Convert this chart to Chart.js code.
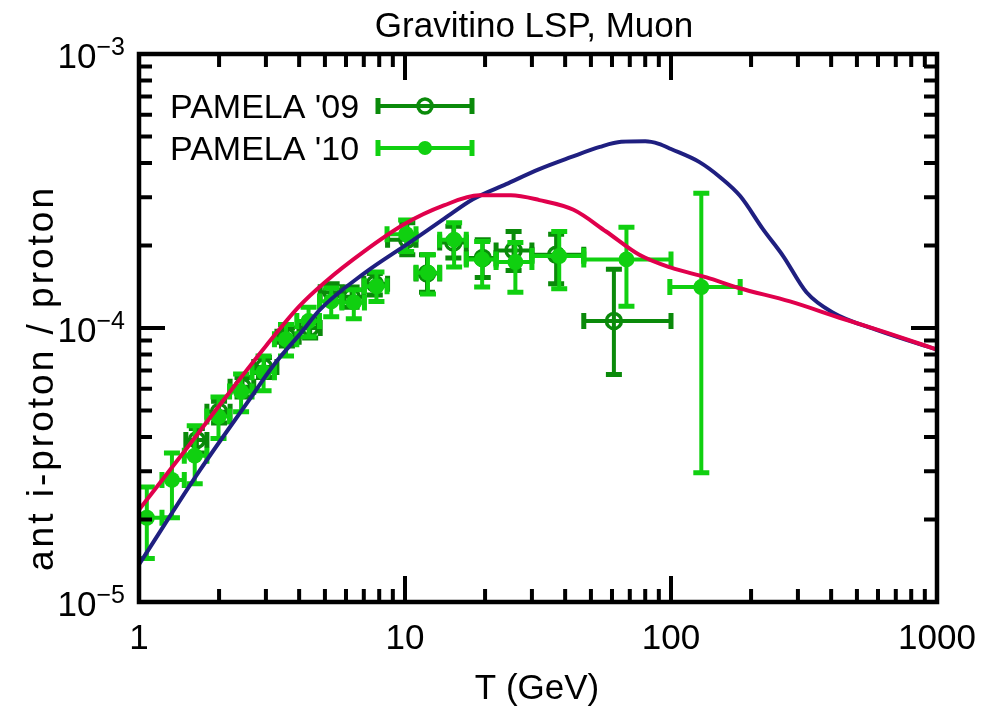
<!DOCTYPE html>
<html><head><meta charset="utf-8">
<script src="https://cdn.jsdelivr.net/npm/chart.js@4.4.1/dist/chart.umd.min.js"></script>
<style>html,body{margin:0;padding:0;background:#fff;}canvas{display:block;}</style>
</head><body>
<canvas id="c" width="1004" height="707"></canvas>
<script>
// ---- tick labels ----
const xTickValues = [1, 10, 100, 1000];
const xTickLabels = ['1', '10', '100', '1000'];
const yTickValues = [1e-5, 1e-4, 1e-3];
const yTickBase = ['10', '10', '10'];
const yTickExp = ['\u22125', '\u22124', '\u22123'];

// ---- PAMELA '10 (light green, filled) ----
const T10    = [1.07, 1.33, 1.62, 1.99, 2.42, 2.94, 3.57, 4.34, 5.28, 6.42, 7.81, 10.1, 12.2, 15.3, 19.5, 26.0, 38.0, 68.0, 130.0];
const R10    = [2.03e-5, 2.79e-5, 3.42e-5, 4.75e-5, 5.86e-5, 6.9e-5, 9.1e-5, 1.06e-4, 1.25e-4, 1.24e-4, 1.42e-4, 2.2e-4, 1.59e-4, 2.1e-4, 1.78e-4, 1.74e-4, 1.83e-4, 1.78e-4, 1.41e-4];
const R10hi  = [2.63e-5, 3.50e-5, 4.40e-5, 5.6e-5, 6.8e-5, 7.9e-5, 1.03e-4, 1.19e-4, 1.40e-4, 1.38e-4, 1.60e-4, 2.48e-4, 1.85e-4, 2.42e-4, 2.07e-4, 2.05e-4, 2.25e-4, 2.33e-4, 3.1e-4];
const R10lo  = [1.44e-5, 2.03e-5, 2.70e-5, 3.95e-5, 4.95e-5, 5.9e-5, 7.9e-5, 9.3e-5, 1.10e-4, 1.08e-4, 1.25e-4, 1.9e-4, 1.33e-4, 1.67e-4, 1.41e-4, 1.35e-4, 1.39e-4, 1.2e-4, 2.96e-5];
const T10lo  = [0.97, 1.22, 1.48, 1.80, 2.19, 2.66, 3.23, 3.92, 4.77, 5.79, 7.04, 8.56, 11.0, 13.5, 17.0, 22.0, 30.0, 47.0, 99.0];
const T10hi  = [1.22, 1.48, 1.80, 2.19, 2.66, 3.23, 3.92, 4.77, 5.79, 7.04, 8.56, 11.0, 13.5, 17.0, 22.0, 30.0, 47.0, 100.0, 182.0];

// ---- PAMELA '09 (dark green, open) ----
const T09    = [1.65, 2.0, 2.45, 2.95, 3.6, 4.4, 5.3, 6.3, 7.7, 10.2, 12.1, 15.2, 19.6, 25.6, 37.0, 61.0];
const R09    = [3.9e-5, 4.95e-5, 6.1e-5, 7.2e-5, 9.3e-5, 1.0e-4, 1.35e-4, 1.3e-4, 1.45e-4, 2.1e-4, 1.58e-4, 2.05e-4, 1.8e-4, 1.92e-4, 1.85e-4, 1.06e-4];
const R09hi  = [4.3e-5, 5.4e-5, 6.6e-5, 7.8e-5, 1.0e-4, 1.08e-4, 1.45e-4, 1.41e-4, 1.58e-4, 2.42e-4, 1.85e-4, 2.35e-4, 2.1e-4, 2.25e-4, 2.2e-4, 1.64e-4];
const R09lo  = [3.5e-5, 4.5e-5, 5.6e-5, 6.6e-5, 8.6e-5, 9.2e-5, 1.25e-4, 1.19e-4, 1.32e-4, 1.85e-4, 1.35e-4, 1.8e-4, 1.53e-4, 1.62e-4, 1.45e-4, 6.76e-5];
const T09lo  = [1.5, 1.8, 2.2, 2.7, 3.3, 4.0, 4.8, 5.8, 7.0, 8.6, 11.0, 13.5, 17.0, 22.0, 30.0, 47.0];
const T09hi  = [1.8, 2.2, 2.7, 3.3, 4.0, 4.8, 5.8, 7.0, 8.6, 11.0, 13.5, 17.0, 22.0, 30.0, 47.0, 100.0];

// ---- model curves ----
const redT = [1, 1.5, 2, 3, 4, 5, 7, 10, 14, 19, 25, 32, 43, 57, 76, 100, 136, 180, 280, 430, 650, 1000];
const redR = [2.17e-5, 3.6e-5, 5.2e-5, 8.6e-5, 1.2e-4, 1.47e-4, 1.9e-4, 2.4e-4, 2.8e-4, 3.05e-4, 3.05e-4, 2.93e-4, 2.7e-4, 2.25e-4, 1.85e-4, 1.66e-4, 1.53e-4, 1.4e-4, 1.25e-4, 1.09e-4, 9.6e-5, 8.34e-5];
const blueT = [1, 1.7, 2.6, 3.2, 4.1, 4.8, 7, 10.4, 14, 18, 24, 32, 42, 54, 65, 80, 90, 100, 128, 153, 182, 222, 264, 323, 405, 600, 1000];
const blueR = [1.37e-5, 3.04e-5, 5.48e-5, 7.3e-5, 9.7e-5, 1.17e-4, 1.58e-4, 2.05e-4, 2.5e-4, 2.95e-4, 3.35e-4, 3.8e-4, 4.2e-4, 4.58e-4, 4.78e-4, 4.8e-4, 4.7e-4, 4.5e-4, 4.03e-4, 3.55e-4, 3.03e-4, 2.29e-4, 1.83e-4, 1.35e-4, 1.14e-4, 9.8e-5, 8.34e-5];

const DARK = '#0a8a0a', LIGHT = '#10d010', RED = '#e0004c', BLUE = '#1f1f80';
const FONT = '"Liberation Sans", Arial, Helvetica, sans-serif';

function pts(xs, ys) { return xs.map((x, i) => ({x: x, y: ys[i]})); }

const errInfo = {
  2: {lo: R10lo, hi: R10hi, xlo: T10lo, xhi: T10hi, T: T10, R: R10, color: LIGHT},
  3: {lo: R09lo, hi: R09hi, xlo: T09lo, xhi: T09hi, T: T09, R: R09, color: DARK}
};

function drawErr(ctx, px, py, x0, x1, y0, y1, color) {
  ctx.strokeStyle = color;
  ctx.lineWidth = 4;
  ctx.lineCap = 'butt';
  ctx.beginPath();
  if (y0 !== null) { ctx.moveTo(px, y0); ctx.lineTo(px, y1); }
  ctx.moveTo(x0, py); ctx.lineTo(x1, py);
  ctx.stroke();
  ctx.lineWidth = 5;
  const c = 8;
  ctx.beginPath();
  if (y0 !== null) { ctx.moveTo(px - c, y0); ctx.lineTo(px + c, y0); ctx.moveTo(px - c, y1); ctx.lineTo(px + c, y1); }
  ctx.moveTo(x0, py - c); ctx.lineTo(x0, py + c);
  ctx.moveTo(x1, py - c); ctx.lineTo(x1, py + c);
  ctx.stroke();
}

const errPlugin = {
  id: 'errbars',
  beforeDatasetDraw(chart, args) {
    const e = errInfo[args.index];
    if (!e) return;
    const {ctx, chartArea: a} = chart;
    const xs = chart.scales.x, ys = chart.scales.y;
    ctx.save();
    ctx.beginPath(); ctx.rect(a.left, a.top, a.right - a.left, a.bottom - a.top); ctx.clip();
    for (let i = 0; i < e.T.length; i++) {
      drawErr(ctx, xs.getPixelForValue(e.T[i]), ys.getPixelForValue(e.R[i]),
        xs.getPixelForValue(e.xlo[i]), xs.getPixelForValue(e.xhi[i]),
        ys.getPixelForValue(e.lo[i]), ys.getPixelForValue(e.hi[i]), e.color);
    }
    ctx.restore();
  }
};

const framePlugin = {
  id: 'frame',
  afterDraw(chart) {
    const {ctx, chartArea: a} = chart;
    const xs = chart.scales.x, ys = chart.scales.y;
    ctx.save();
    ctx.strokeStyle = '#000';
    ctx.lineWidth = 4;
    const majL = 26, minL = 13;
    ctx.beginPath();
    for (let d = 0; d < 3; d++) {
      for (let k = 1; k <= 9; k++) {
        const v = k * Math.pow(10, d);
        const px = xs.getPixelForValue(v);
        const L = k === 1 ? majL : minL;
        ctx.moveTo(px, a.bottom); ctx.lineTo(px, a.bottom - L);
        ctx.moveTo(px, a.top); ctx.lineTo(px, a.top + L);
      }
    }
    for (let d = -5; d < -3; d++) {
      for (let k = 1; k <= 9; k++) {
        const v = k * Math.pow(10, d);
        const py = ys.getPixelForValue(v);
        const L = k === 1 ? majL : minL;
        ctx.moveTo(a.left, py); ctx.lineTo(a.left + L, py);
        ctx.moveTo(a.right, py); ctx.lineTo(a.right - L, py);
      }
    }
    ctx.stroke();
    ctx.lineWidth = 4.5;
    ctx.strokeRect(a.left, a.top, a.right - a.left, a.bottom - a.top);

    // tick labels
    ctx.fillStyle = '#000';
    ctx.font = '35px ' + FONT;
    ctx.textAlign = 'center';
    ctx.textBaseline = 'alphabetic';
    xTickValues.forEach((v, i) => ctx.fillText(xTickLabels[i], xs.getPixelForValue(v), a.bottom + 47));
    yTickValues.forEach((v, i) => {
      const py = ys.getPixelForValue(v);
      ctx.font = '25px ' + FONT;
      ctx.textAlign = 'right';
      const right = a.left - 14;
      const sw = ctx.measureText(yTickExp[i]).width;
      ctx.fillText(yTickExp[i], right, py + 1);
      ctx.font = '35px ' + FONT;
      ctx.fillText(yTickBase[i], right - sw, py + 14);
    });

    // titles
    ctx.textAlign = 'center';
    ctx.font = '35px ' + FONT;
    ctx.fillText('Gravitino LSP, Muon', 534, 37);
    ctx.fillText('T (GeV)', 537, 699);
    ctx.save();
    ctx.translate(53, 378);
    ctx.rotate(-Math.PI / 2);
    ctx.font = '37px ' + FONT;
    ctx.letterSpacing = '3px';
    ctx.fillText('ant i-proton / proton', 0, 0);
    ctx.restore();

    // legend
    ctx.textAlign = 'left';
    ctx.font = '34px ' + FONT;
    const rows = [{t: "PAMELA '09", y: 106, c: DARK, open: true}, {t: "PAMELA '10", y: 148, c: LIGHT, open: false}];
    rows.forEach(r => {
      ctx.fillStyle = '#000';
      ctx.fillText(r.t, 170, r.y + 12);
      drawErr(ctx, 425, r.y, 378, 472, null, null, r.c);
      ctx.beginPath();
      ctx.arc(425, r.y, 7, 0, Math.PI * 2);
      if (r.open) { ctx.lineWidth = 3.5; ctx.strokeStyle = r.c; ctx.stroke(); }
      else { ctx.fillStyle = r.c; ctx.fill(); }
    });
    ctx.restore();
  }
};

new Chart(document.getElementById('c'), {
  type: 'scatter',
  data: {
    datasets: [
      {label: 'red', data: pts(redT, redR), showLine: true, borderColor: RED, borderWidth: 4, pointRadius: 0, cubicInterpolationMode: 'monotone', fill: false},
      {label: 'blue', data: pts(blueT, blueR), showLine: true, borderColor: BLUE, borderWidth: 4, pointRadius: 0, cubicInterpolationMode: 'monotone', fill: false},
      {label: "PAMELA '10", data: pts(T10, R10), pointRadius: 8, pointBackgroundColor: LIGHT, pointBorderColor: LIGHT, pointBorderWidth: 0, showLine: false},
      {label: "PAMELA '09", data: pts(T09, R09), pointRadius: 7.5, pointBackgroundColor: 'rgba(0,0,0,0)', pointBorderColor: DARK, pointBorderWidth: 3.5, showLine: false}
    ]
  },
  options: {
    responsive: false,
    animation: false,
    devicePixelRatio: 1,
    layout: {padding: {left: 139, right: 67, top: 54, bottom: 105}},
    plugins: {legend: {display: false}, tooltip: {enabled: false}, title: {display: false}},
    scales: {
      x: {type: 'logarithmic', min: 1, max: 1000, display: false},
      y: {type: 'logarithmic', min: 1e-5, max: 1e-3, display: false}
    }
  },
  plugins: [errPlugin, framePlugin]
});
</script>
</body></html>
